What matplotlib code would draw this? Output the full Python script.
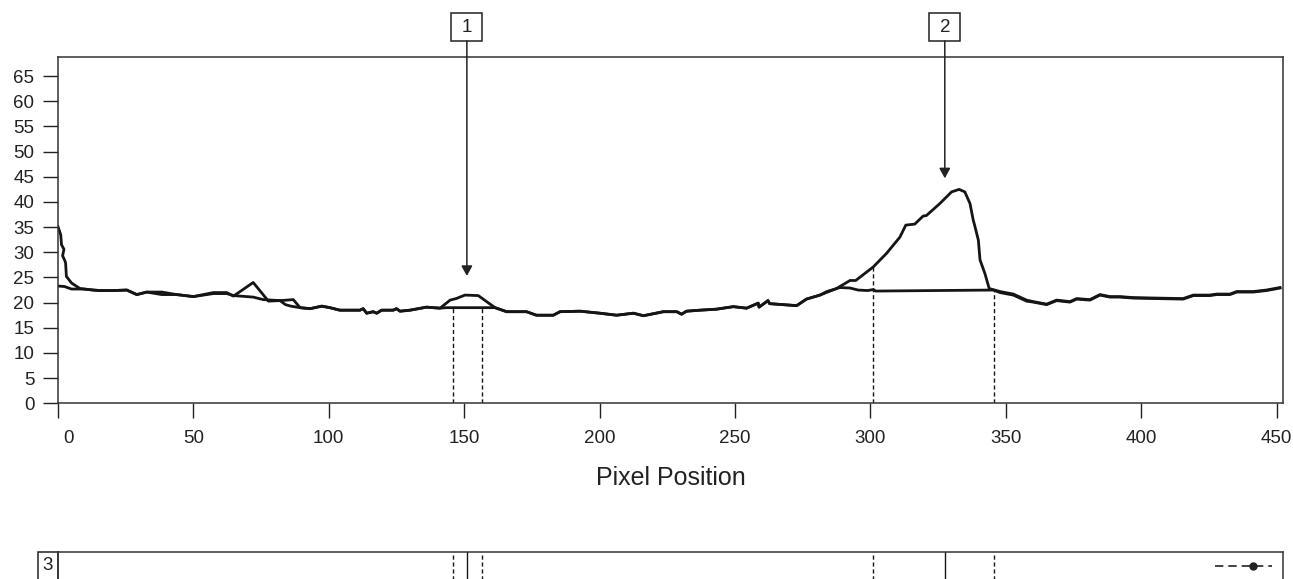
import matplotlib.pyplot as plt
from matplotlib.patches import Rectangle
from matplotlib.transforms import ScaledTranslation

plt.rcParams['font.family'] = ['Liberation Sans', 'DejaVu Sans']

# measured intensity profile
x_signal = [0, 1.0, 1.3, 2.2, 1.7, 2.4, 2.8, 3.1, 5.0, 8.1, 13, 15.5, 20.4, 25.4, 29.1, 32.8,
            38.3, 43.8, 50, 57.4, 62.3, 64.8, 72.1, 77.7, 82, 84, 86, 89.4, 93.1, 97.4, 100.4,
            104.1, 111.5, 112.7, 114, 116.4, 117.7, 119.5, 123.8, 125, 126.3, 130, 136.1, 141.1,
            144.8, 147, 150.3, 155.2, 158.3, 161.4, 165.7, 173, 176.7, 182.9, 185.4, 192.8,
            200.1, 206.3, 212.5, 216.2, 223.6, 228.5, 230.3, 232.1, 237.1, 243.2, 249.4, 254.3,
            258.6, 258.9, 262.2, 262.8, 272.8, 276.4, 281.4, 287.5, 292.5, 294.6, 301.1, 306,
            310.9, 313.1, 316.4, 319.5, 320.7, 325.7, 330, 332.8, 334.9, 336.8, 338, 338.6,
            339.9, 340.5, 342.3, 343.9, 347.9, 352.8, 357.7, 360.2, 365.1, 368.8, 373.7, 376.2,
            381.1, 384.8, 388.5, 392.2, 397.1, 415.5, 419.3, 425.4, 427.9, 432.8, 435.3, 441.4,
            446.3, 451.3]
y_signal = [35.1, 33.5, 31.5, 30.6, 29.3, 28.5, 27.9, 25.2, 23.9, 22.8, 22.5, 22.4, 22.4, 22.5,
            21.6, 22.1, 22.1, 21.6, 21.2, 22.0, 22.0, 21.3, 24.0, 20.3, 20.4, 19.6, 19.3, 19.0,
            18.8, 19.3, 19.0, 18.5, 18.5, 18.8, 17.9, 18.2, 17.9, 18.5, 18.5, 18.8, 18.3, 18.5,
            19.1, 18.9, 20.5, 20.8, 21.5, 21.4, 20.2, 19.0, 18.2, 18.2, 17.5, 17.5, 18.2, 18.3,
            17.9, 17.5, 17.9, 17.4, 18.2, 18.2, 17.7, 18.3, 18.5, 18.7, 19.2, 18.9, 19.9, 19.1,
            20.4, 19.8, 19.4, 20.7, 21.5, 22.8, 24.4, 24.4, 27.1, 29.8, 33.0, 35.4, 35.6, 37.2,
            37.3, 39.7, 42.0, 42.5, 42.0, 39.7, 36.4, 35.2, 32.4, 28.5, 25.8, 22.8, 22.2, 21.7,
            20.5, 20.2, 19.7, 20.5, 20.2, 20.8, 20.6, 21.6, 21.2, 21.2, 21.0, 20.8, 21.5, 21.5,
            21.7, 21.7, 22.2, 22.2, 22.5, 23.0]

# estimated background
x_base = [0, 2.4, 5, 9.4, 13, 15.5, 20.4, 25.4, 29.1, 32.8, 38.3, 43.8, 50, 57.4, 62.3, 64.8,
          72.1, 75.8, 82, 86.9, 89.4, 93.1, 97.4, 100.4, 104.1, 111.5, 112.7, 114, 116.4,
          117.7, 119.5, 123.8, 125, 126.3, 130, 136.1, 141.1, 143.4, 161.4, 165.7, 173, 176.7,
          182.9, 185.4, 192.8, 200.1, 206.3, 212.5, 216.2, 223.6, 228.5, 230.3, 232.1, 237.1,
          243.2, 249.4, 254.3, 258.6, 258.9, 262.2, 262.8, 272.8, 276.4, 281.4, 283.9, 288.8,
          292.5, 295.5, 299, 301.1, 302, 345.4, 347.9, 352.8, 357.7, 360.2, 365.1, 368.8,
          373.7, 376.2, 381.1, 384.8, 388.5, 392.2, 397.1, 415.5, 419.3, 425.4, 427.9, 432.8,
          435.3, 441.4, 446.3, 451.3]
y_base = [23.3, 23.2, 22.7, 22.7, 22.5, 22.4, 22.4, 22.5, 21.6, 22.1, 21.6, 21.6, 21.2, 21.8,
          21.8, 21.4, 21.1, 20.6, 20.4, 20.6, 19.0, 18.8, 19.3, 19.0, 18.5, 18.5, 18.8, 17.9,
          18.2, 17.9, 18.5, 18.5, 18.8, 18.3, 18.5, 19.1, 18.9, 19.0, 19.0, 18.2, 18.2, 17.5,
          17.5, 18.2, 18.3, 17.9, 17.5, 17.9, 17.4, 18.2, 18.2, 17.7, 18.3, 18.5, 18.7, 19.2,
          18.9, 19.9, 19.1, 20.4, 19.8, 19.4, 20.7, 21.5, 22.2, 23.0, 22.9, 22.5, 22.4, 22.6,
          22.3, 22.5, 22.0, 21.5, 20.3, 20.1, 19.6, 20.4, 20.1, 20.7, 20.5, 21.5, 21.1, 21.1,
          20.9, 20.7, 21.4, 21.4, 21.6, 21.6, 22.1, 22.1, 22.4, 22.9]

region_bounds = [145.9, 156.6, 301.0, 345.6]
region_tops = [19.1, 19.1, 27.1, 22.5]
peak_centers = [151.0, 327.5]
peak_tips = [25.3, 44.7]
peak_labels = ['1', '2']
x_ticks = list(range(0, 451, 50))
y_ticks = list(range(0, 66, 5))

W, H = 1293, 579
fig = plt.figure(figsize=(W / 100, H / 100), dpi=100)
ax = fig.add_axes([58 / W, 1 - 403.3 / H, 1225 / W, 346.3 / H])
ax2 = fig.add_axes([58 / W, 1 - 600 / H, 1225 / W, 48 / H])

line_col = '#151515'
ax.plot(x_base, y_base, color=line_col, lw=2.0, solid_joinstyle='round')
ax.plot(x_signal, y_signal, color=line_col, lw=2.0, solid_joinstyle='round')

for xb, yt in zip(region_bounds, region_tops):
    ax.plot([xb, xb], [0, yt], color=line_col, lw=1.0, ls=(0, (3, 2)))
    ax2.axvline(xb, color=line_col, lw=1.0, ls=(0, (3, 2)))

ax.set_xlim(0, 452.4)
ax.set_ylim(0, 68.8)
ax.set_xticks(x_ticks)
ax.set_yticks(y_ticks)
ax.tick_params(direction='out', length=11, width=1.0, labelsize=13.5, pad=6, colors='#222222')
ax.tick_params(axis='x', pad=8)
for s in ax.spines.values():
    s.set_linewidth(1.1)
    s.set_color('#333333')
ax.set_xlabel('Pixel Position', fontsize=18, labelpad=14, color='#222222')

# shift the "0" label a bit right, as in the original
lbl0 = ax.get_xticklabels()[0]
lbl0.set_transform(lbl0.get_transform() + ScaledTranslation(10 / 100, 0, fig.dpi_scale_trans))

# numbered boxes with arrows
xs = ax.transData.inverted()
for xc, tip, lab in zip(peak_centers, peak_tips, peak_labels):
    px = ax.transData.transform((xc, 0))[0]
    (x0, y0) = xs.transform((px - 15.5, (H - 41)))
    (x1, y1) = xs.transform((px + 15.5, (H - 13)))
    ax.add_patch(Rectangle((x0, y0), x1 - x0, y1 - y0, fill=False, ec='#222222', lw=1.1,
                           clip_on=False))
    ax.text(xc, (y0 + y1) / 2, lab, ha='center', va='center', fontsize=13.5, color='#222222',
            clip_on=False)
    ax.annotate('', xy=(xc, tip), xytext=(xc, y0), annotation_clip=False,
                arrowprops=dict(arrowstyle='-|>,head_length=0.6,head_width=0.33',
                                color='#222222', lw=1.1, shrinkA=0, shrinkB=0))

# lower strip
ax2.set_xlim(0, 452.4)
ax2.set_ylim(0, 1)
ax2.set_xticks([])
ax2.set_yticks([])
for s in ax2.spines.values():
    s.set_linewidth(1.1)
    s.set_color('#333333')
for xc in peak_centers:
    ax2.axvline(xc, color=line_col, lw=1.0)
ax2.add_patch(Rectangle((-20 / 1225, 0.3), 20 / 1225, 0.7, transform=ax2.transAxes,
                        fill=False, ec='#222222', lw=1.1, clip_on=False))
ax2.text(-10 / 1225, 0.72, '3', transform=ax2.transAxes, ha='center', va='center',
         fontsize=13.5, color='#222222')
ax2.plot([0.9445, 0.991], [0.708, 0.708], transform=ax2.transAxes, color='#222222',
         lw=1.2, ls=(0, (5, 3)))
ax2.plot([0.9755], [0.708], transform=ax2.transAxes, color='#222222', marker='o', ms=5)

fig.savefig('out.png', dpi=100)
